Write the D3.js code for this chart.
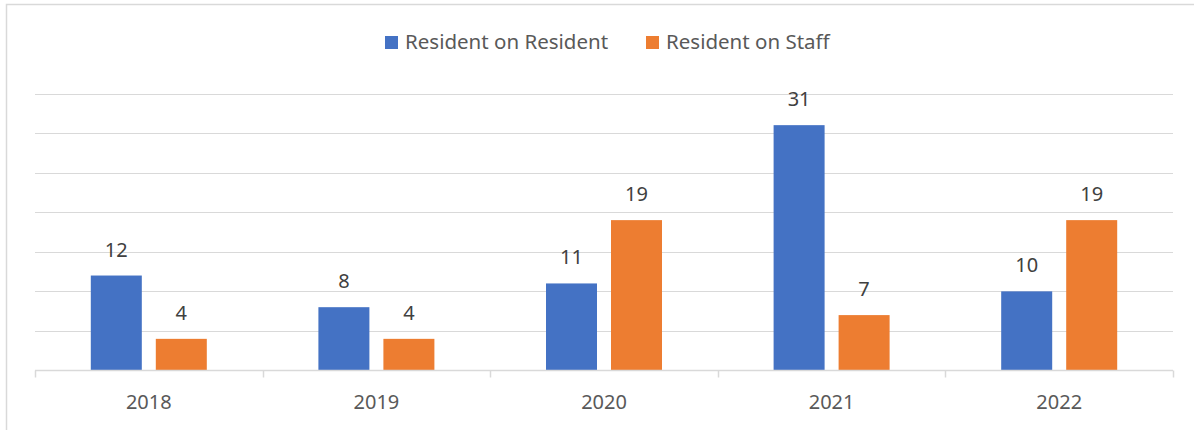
<!DOCTYPE html>
<html>
<head>
<meta charset="utf-8">
<script src="https://cdn.jsdelivr.net/npm/d3@7"></script>
<style>
  body { margin: 0; background: #fff; }
  svg { display: block; font-family: "Noto Sans", "Open Sans", sans-serif; }
</style>
</head>
<body>
<svg id="chart" width="1194" height="430"></svg>
<script>
// chart data
var years = ["2018", "2019", "2020", "2021", "2022"];
var seriesNames = ["Resident on Resident", "Resident on Staff"];
var residentOnResident = [12, 8, 11, 31, 10];
var residentOnStaff = [4, 4, 19, 7, 19];
var yTicks = [0, 5, 10, 15, 20, 25, 30, 35];
var colors = ["#4472C4", "#ED7D31"];

var svg = d3.select("#chart"),
    plotLeft = 35, plotRight = 1173,
    plotTop = 93.5, plotBottom = 370.5;

var values = [residentOnResident, residentOnStaff];

// frame round the chart (right and bottom edges fall outside the window)
svg.append("rect")
    .attr("x", 6.5).attr("y", 4.5)
    .attr("width", 1220).attr("height", 460)
    .attr("fill", "#fff")
    .attr("stroke", "#d9d9d9")
    .attr("stroke-width", 1.5);

var x0 = d3.scaleBand().domain(years).range([plotLeft, plotRight]).padding(0);
var groupW = 116;
var x1 = d3.scaleBand()
    .domain(d3.range(seriesNames.length))
    .range([x0.bandwidth() / 2 - groupW / 2, x0.bandwidth() / 2 + groupW / 2])
    .paddingInner(14 / 65);
var y = d3.scaleLinear().domain([0, 35]).range([plotBottom, plotTop]);

// gridlines
svg.append("g")
    .selectAll("line")
    .data(yTicks.slice(1))
    .join("line")
    .attr("x1", plotLeft).attr("x2", plotRight)
    .attr("y1", function(d) { return Math.round(y(d)) + 0.5; })
    .attr("y2", function(d) { return Math.round(y(d)) + 0.5; })
    .attr("stroke", "#d9d9d9")
    .attr("stroke-width", 1.2);

// bars
var groups = svg.append("g")
    .selectAll("g")
    .data(years)
    .join("g")
    .attr("transform", function(d) { return "translate(" + x0(d) + ",0)"; });

groups.selectAll("rect")
    .data(function(d, i) { return values.map(function(v, s) { return {s: s, v: v[i]}; }); })
    .join("rect")
    .attr("x", function(d) { return x1(d.s); })
    .attr("y", function(d) { return y(d.v); })
    .attr("width", x1.bandwidth())
    .attr("height", function(d) { return plotBottom - y(d.v); })
    .attr("fill", function(d) { return colors[d.s]; });

// value labels
groups.selectAll("text")
    .data(function(d, i) { return values.map(function(v, s) { return {s: s, v: v[i]}; }); })
    .join("text")
    .attr("x", function(d) { return x1(d.s) + x1.bandwidth() / 2; })
    .attr("y", function(d) { return y(d.v) - 19; })
    .attr("text-anchor", "middle")
    .attr("fill", "#404040")
    .attr("font-size", 20)
    .text(function(d) { return d.v; });

// x axis
var xAxis = svg.append("g")
    .attr("transform", "translate(0," + plotBottom + ")")
    .call(d3.axisBottom(x0).tickSize(0).tickPadding(0));
xAxis.attr("font-family", null).attr("font-size", null);
xAxis.select(".domain").remove();
xAxis.append("line")
    .attr("x1", plotLeft).attr("x2", plotRight)
    .attr("stroke", "#d9d9d9").attr("stroke-width", 1.5);
xAxis.selectAll(".tick text")
    .attr("y", 38)
    .attr("dy", 0)
    .attr("fill", "#595959")
    .attr("font-size", 20);

// category separators below the axis
xAxis.append("g")
    .selectAll("line")
    .data(years.map(function(d) { return x0(d); }).concat([plotRight]))
    .join("line")
    .attr("x1", function(d) { return Math.round(d) + 0.5; })
    .attr("x2", function(d) { return Math.round(d) + 0.5; })
    .attr("y1", 0).attr("y2", 7)
    .attr("stroke", "#d9d9d9").attr("stroke-width", 1.5);

// legend
var legendX = [385, 646];
var legend = svg.append("g")
    .selectAll("g")
    .data(seriesNames)
    .join("g")
    .attr("transform", function(d, i) { return "translate(" + legendX[i] + ",36)"; });
legend.append("rect")
    .attr("width", 13).attr("height", 13)
    .attr("fill", function(d, i) { return colors[i]; });
legend.append("text")
    .attr("x", 20).attr("y", 13)
    .attr("fill", "#595959")
    .attr("font-size", 20.5)
    .text(function(d) { return d; });
</script>
</body>
</html>
